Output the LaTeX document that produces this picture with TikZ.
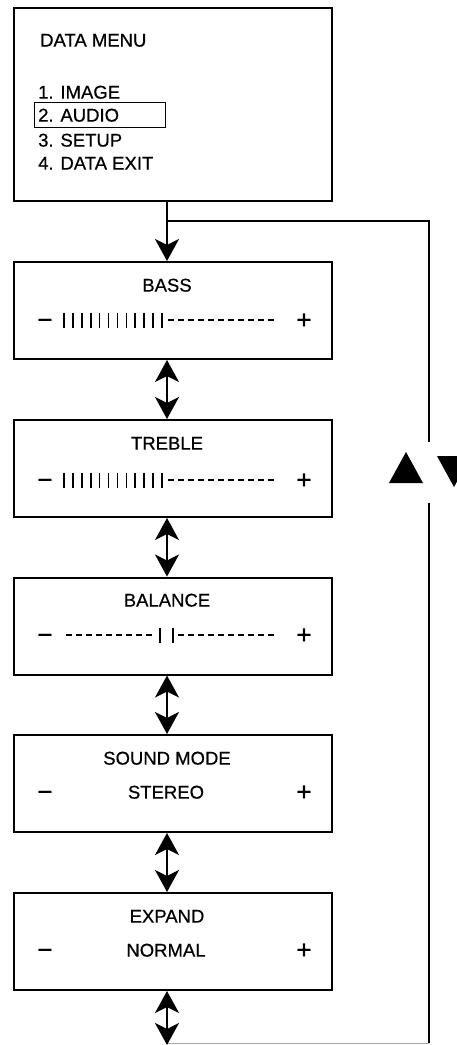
\documentclass[tikz,border=0pt]{standalone}
\usepackage{fontspec}
\setmainfont{Liberation Sans}
\newfontfamily\heavy{Liberation Sans}[FakeBold=0.6]
\usetikzlibrary{arrows.meta}
\tikzset{
  bigtip/.tip={Stealth[length=22pt,width=24pt,inset=6pt]},
  panel/.style={draw, line width=2pt, minimum width=318pt, minimum height=97pt, inner sep=0pt},
  lbl/.style={font=\heavy\fontsize{18.5}{20}\selectfont, inner sep=0pt, text height=13.2pt, text depth=0pt},
  sign/.style={font=\heavy\fontsize{26}{28}\selectfont, inner sep=0pt, anchor=base},
  conn/.style={line width=1.5pt},
  dbl/.style={conn, bigtip-bigtip},
  bar/.style={line width=1.6pt},
  dsh/.style={line width=2pt},
}
\begin{document}
\begin{tikzpicture}[x=1pt,y=-1pt]
\useasboundingbox (0,0) rectangle (457,1045);
\clip (0,0) rectangle (457,1045);

% panels
\node[panel, minimum height=193pt] (menu) at (173,104.5) {};
\node[panel] (bass) at (173,310.5) {};
\node[panel] (treble) at (173,468.5) {};
\node[panel] (balance) at (173,626) {};
\node[panel] (sound) at (173,783.5) {};
\node[panel] (expand) at (173,941.5) {};

% menu texts
\node[lbl, anchor=west] (mtitle) at (40,40) {DATA MENU};
\node[lbl, anchor=west] (m1) at (38,92) {1. IMAGE};
\node[draw, line width=1.3pt, minimum width=131pt, minimum height=25pt, inner sep=0pt] (hl) at (100,115) {};
\node[lbl, anchor=west] (m2) at (38,115) {2. AUDIO};
\node[lbl, anchor=west] (m3) at (38,140) {3. SETUP};
\node[lbl, anchor=west] (m4) at (38,163) {4. DATA EXIT};

% titles
\node[lbl] (tbass) at (167,285) {BASS};
\node[lbl] (ttreble) at (167,443) {TREBLE};
\node[lbl] (tbal) at (167,600) {BALANCE};
\node[lbl] (tsound) at (167,758) {SOUND MODE};
\node[lbl] (texp) at (167,916) {EXPAND};
\node[lbl] (vstereo) at (166,792) {STEREO};
\node[lbl] (vnormal) at (166,950) {NORMAL};

% minus / plus signs
\foreach \y/\n in {320/a,480/b,635/c,792/d,950/e}{
  \node[sign] (minus\n) at (45,\y+8.5) {−};
  \node[sign] (plus\n) at (304,\y+8.5) {+};
}

% bass / treble bars
\foreach \y in {320,480}{
  \foreach \i in {0,...,11}{
    \draw[bar] ({64+\i*8.9},\y-7.5) -- ({64+\i*8.9},\y+7.5);
  }
  \foreach \i in {0,...,10}{
    \draw[dsh] ({168+\i*10},\y) -- ({174+\i*10},\y);
  }
}
% balance
\foreach \i in {0,...,8}{
  \draw[dsh] ({66+\i*10},635) -- ({72+\i*10},635);
}
\draw[bar] (160,627.5) -- (160,642.5);
\draw[bar] (173,627.5) -- (173,642.5);
\foreach \i in {0,...,9}{
  \draw[dsh] ({178+\i*10},635) -- ({184+\i*10},635);
}

% connector coordinates
\coordinate (ax) at (167,0);
\coordinate (branch) at (167,221);
\coordinate (rtop) at (429,221);
\coordinate (rgap1) at (429,442);
\coordinate (rgap2) at (429,503);
\coordinate (rbot) at (429,1043);
\coordinate (loopend) at (167,1045);

% connectors
\draw[conn,-bigtip] (menu.south -| ax) -- (bass.north -| ax);
\draw[conn] (branch) -- (rtop) -- (rgap1);
\draw[conn] (rgap2) -- (rbot);
\draw[line width=0.8pt, black!35] (rbot) -- (loopend |- rbot);
\draw[dbl] (bass.south -| ax) -- (treble.north -| ax);
\draw[dbl] (treble.south -| ax) -- (balance.north -| ax);
\draw[dbl] (balance.south -| ax) -- (sound.north -| ax);
\draw[dbl] (sound.south -| ax) -- (expand.north -| ax);
\draw[dbl] (expand.south -| ax) -- (loopend);

% up / down triangles
\fill (389,483) -- (423,483) -- (406,452) -- cycle;
\fill (437,456) -- (471,456) -- (454,487) -- cycle;
\end{tikzpicture}
\end{document}
